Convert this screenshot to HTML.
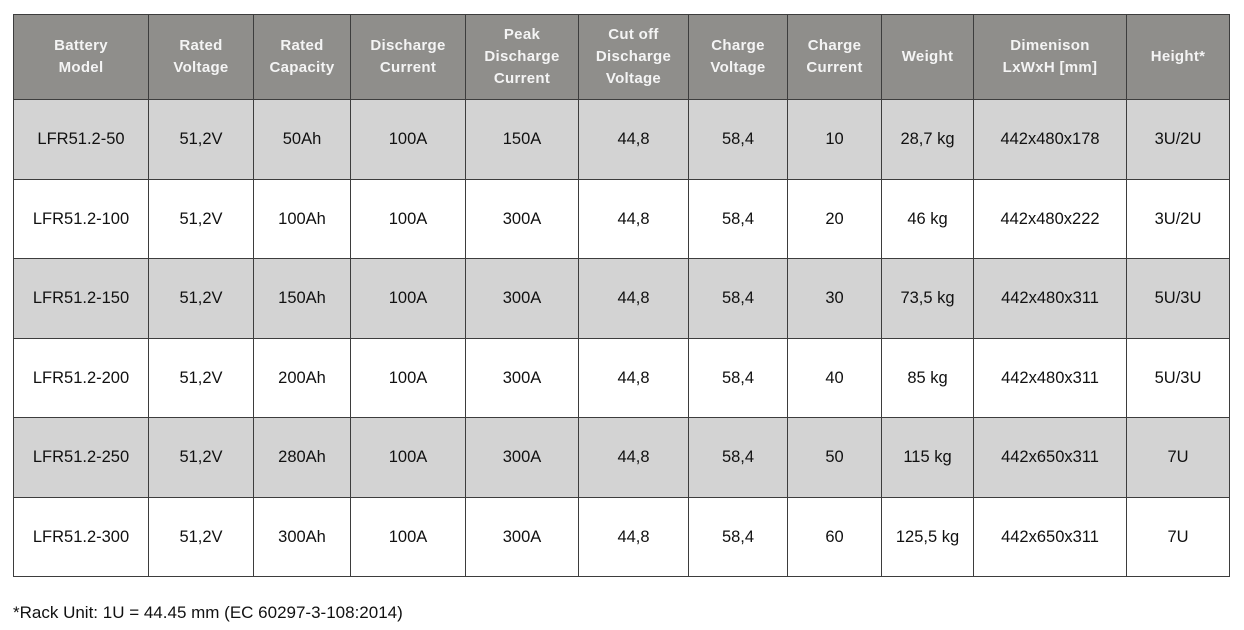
<!DOCTYPE html>
<html><head><style>
body{margin:0;width:1244px;height:630px;background:#fff;position:relative;font-family:"Liberation Sans","DejaVu Sans",sans-serif;overflow:hidden}
table{position:absolute;left:13px;top:14px;border-collapse:collapse;table-layout:fixed;width:1216px}
td,th{border:1.5px solid #3d3d3d;text-align:center;vertical-align:middle;padding:0;font-size:16.5px;color:#111}
th{background:#8f8e8b;color:#f4f4f4;font-weight:bold;font-size:15px;line-height:22px;height:84px;letter-spacing:0.3px}
tr.g td{background:#d3d3d3}
td{height:77.5px;padding-top:1px}
.foot{position:absolute;left:13px;top:603px;font-size:17px;color:#111}
</style></head><body>
<table>
<colgroup><col style="width:135px"><col style="width:105px"><col style="width:97px"><col style="width:115px"><col style="width:113px"><col style="width:110px"><col style="width:99px"><col style="width:94px"><col style="width:92px"><col style="width:153px"><col style="width:103px"></colgroup>
<tr><th>Battery<br>Model</th><th>Rated<br>Voltage</th><th>Rated<br>Capacity</th><th>Discharge<br>Current</th><th>Peak<br>Discharge<br>Current</th><th>Cut off<br>Discharge<br>Voltage</th><th>Charge<br>Voltage</th><th>Charge<br>Current</th><th>Weight</th><th>Dimenison<br>LxWxH [mm]</th><th>Height*</th></tr>
<tr class="g"><td>LFR51.2-50</td><td>51,2V</td><td>50Ah</td><td>100A</td><td>150A</td><td>44,8</td><td>58,4</td><td>10</td><td>28,7 kg</td><td>442x480x178</td><td>3U/2U</td></tr>
<tr><td>LFR51.2-100</td><td>51,2V</td><td>100Ah</td><td>100A</td><td>300A</td><td>44,8</td><td>58,4</td><td>20</td><td>46 kg</td><td>442x480x222</td><td>3U/2U</td></tr>
<tr class="g"><td>LFR51.2-150</td><td>51,2V</td><td>150Ah</td><td>100A</td><td>300A</td><td>44,8</td><td>58,4</td><td>30</td><td>73,5 kg</td><td>442x480x311</td><td>5U/3U</td></tr>
<tr><td>LFR51.2-200</td><td>51,2V</td><td>200Ah</td><td>100A</td><td>300A</td><td>44,8</td><td>58,4</td><td>40</td><td>85 kg</td><td>442x480x311</td><td>5U/3U</td></tr>
<tr class="g"><td>LFR51.2-250</td><td>51,2V</td><td>280Ah</td><td>100A</td><td>300A</td><td>44,8</td><td>58,4</td><td>50</td><td>115 kg</td><td>442x650x311</td><td>7U</td></tr>
<tr><td>LFR51.2-300</td><td>51,2V</td><td>300Ah</td><td>100A</td><td>300A</td><td>44,8</td><td>58,4</td><td>60</td><td>125,5 kg</td><td>442x650x311</td><td>7U</td></tr>
</table>
<div class="foot">*Rack Unit: 1U = 44.45 mm (EC 60297-3-108:2014)</div>
</body></html>
